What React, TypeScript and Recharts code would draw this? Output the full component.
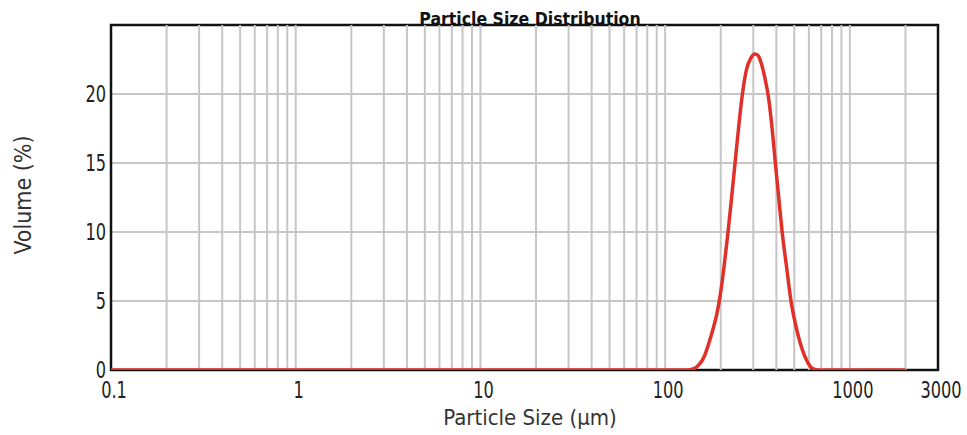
import { LineChart, Line, XAxis, YAxis, CartesianGrid, ReferenceLine, ReferenceArea, Label } from "recharts";

const sizes = [0.1, 1, 10, 100, 130, 143, 153, 163, 172, 181, 190, 198, 208, 219, 229, 239, 250, 262, 276, 291, 305, 318, 330, 345, 364, 380, 395, 412, 430, 455, 480, 510, 540, 570, 600, 630, 680, 1000, 2000];
const volumes = [0, 0, 0, 0, 0, 0.1, 0.4, 1.0, 1.9, 2.9, 4.0, 5.3, 7.4, 10, 12.5, 15, 17.6, 20, 21.8, 22.6, 22.9, 22.8, 22.3, 21.3, 19.6, 17.4, 15, 12.5, 10, 7.4, 5, 3.2, 1.9, 1.0, 0.4, 0.1, 0, 0, 0];

const xTicks = [0.1, 1, 10, 100, 1000, 3000];
const yTicks = [0, 5, 10, 15, 20];
const gridSizes = [
  0.2, 0.3, 0.4, 0.5, 0.6, 0.7, 0.8, 0.9, 1,
  2, 3, 4, 5, 6, 7, 8, 9, 10,
  20, 30, 40, 50, 60, 70, 80, 90, 100,
  200, 300, 400, 500, 600, 700, 800, 900, 1000,
  2000,
];

const data = sizes.map((s, i) => ({ size: s, volume: volumes[i] }));

const FONT = "'DejaVu Sans Condensed', 'DejaVu Sans', sans-serif";

const XTick = ({ x, y, payload }: any) => (
  <g transform={`translate(${x + 3},${y + 26}) scale(1,1.25)`}>
    <text x={0} y={0} textAnchor="middle" fontSize={18} fontFamily={FONT} fill="#222">
      {payload.value}
    </text>
  </g>
);

const YTick = ({ x, y, payload }: any) => (
  <g transform={`translate(${x},${y + 8}) scale(1,1.25)`}>
    <text x={0} y={0} textAnchor="end" fontSize={18} fontFamily={FONT} fill="#222">
      {payload.value}
    </text>
  </g>
);

export default function App() {
  return (
    <div style={{ position: "absolute", left: 0, top: 0, width: 967, height: 435, background: "#fff" }}>
      <div
        style={{
          position: "absolute",
          left: 0,
          width: 1060,
          top: 9,
          textAlign: "center",
          fontFamily: FONT,
          fontWeight: "bold",
          fontSize: 17.5,
          color: "#111",
          zIndex: 2,
          lineHeight: "20px",
        }}
      >
        Particle Size Distribution
      </div>
      <LineChart width={967} height={435} data={data} margin={{ top: 25, right: 29, left: 0, bottom: 0 }}>
        <CartesianGrid vertical={false} stroke="#c6c6c6" strokeWidth={2} />
        {gridSizes.map((g) => (
          <ReferenceLine key={g} x={g} stroke="#c6c6c6" strokeWidth={2} />
        ))}
        <XAxis
          dataKey="size"
          type="number"
          scale="log"
          domain={[0.1, 3000]}
          ticks={xTicks}
          allowDataOverflow
          height={65}
          tickLine={false}
          axisLine={false}
          tickSize={0}
          tick={<XTick />}
          interval={0}
        >
          <Label
            content={() => (
              <text x={530} y={425} textAnchor="middle" fontSize={22} fontFamily={FONT} fill="#333">
                Particle Size (µm)
              </text>
            )}
          />
        </XAxis>
        <YAxis
          type="number"
          domain={[0, 25]}
          ticks={yTicks}
          allowDataOverflow
          width={111}
          tickLine={false}
          axisLine={false}
          tickSize={0}
          tickMargin={5}
          tick={<YTick />}
          interval={0}
        >
          <Label
            content={() => (
              <text
                x={23}
                y={195}
                transform="rotate(-90, 23, 195)"
                textAnchor="middle"
                dominantBaseline="central"
                fontSize={23}
                fontFamily={FONT}
                fill="#333"
              >
                Volume (%)
              </text>
            )}
          />
        </YAxis>
        <ReferenceArea x1={0.1} x2={3000} y1={0} y2={25} fill="none" stroke="#111" strokeWidth={2.5} />
        <Line
          type="monotone"
          dataKey="volume"
          stroke="#e0302a"
          strokeWidth={3.5}
          dot={false}
          isAnimationActive={false}
        />
      </LineChart>
    </div>
  );
}
